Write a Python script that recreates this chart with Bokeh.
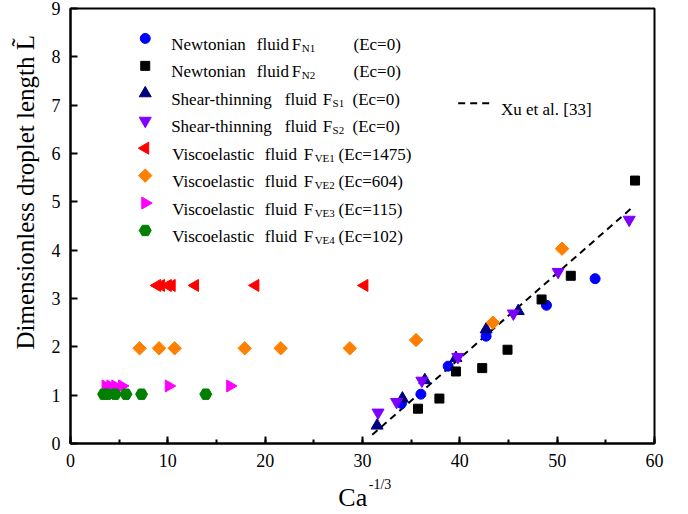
import math
from bokeh.plotting import figure
from bokeh.models import Range1d, SingleIntervalTicker, FixedTicker, LinearAxis, Title
from bokeh.core.properties import value
from bokeh.embed import file_html
from bokeh.resources import INLINE

# ---------------- data ----------------
n1_x = [34.0, 36.0, 38.8, 42.7, 48.9, 53.9]
n1_y = [0.83, 1.02, 1.60, 2.22, 2.86, 3.41]
n2_x = [35.7, 37.9, 39.6, 42.3, 44.9, 48.4, 51.4, 58.0]
n2_y = [0.72, 0.93, 1.49, 1.56, 1.94, 2.98, 3.47, 5.44]
s1_x = [31.5, 34.1, 36.4, 39.6, 42.7, 46.0]
s1_y = [0.37, 0.93, 1.31, 1.77, 2.36, 2.74]
s2_x = [31.6, 33.5, 36.1, 39.8, 45.5, 50.1, 57.4]
s2_y = [0.64, 0.86, 1.30, 1.79, 2.69, 3.55, 4.63]
ve1_x = [8.9, 9.3, 10.0, 10.4, 12.8, 19.0, 30.2]
ve1_y = [3.27, 3.27, 3.27, 3.27, 3.27, 3.27, 3.27]
ve2_x = [7.1, 9.1, 10.7, 17.9, 21.6, 28.7, 35.5, 43.4, 50.5]
ve2_y = [1.97, 1.97, 1.97, 1.97, 1.97, 1.97, 2.14, 2.50, 4.03]
ve3_x = [3.6, 4.1, 4.6, 5.3, 10.1, 16.4]
ve3_y = [1.19, 1.19, 1.19, 1.19, 1.19, 1.19]
ve4_x = [3.4, 3.8, 4.6, 5.7, 7.3, 13.9]
ve4_y = [1.02, 1.02, 1.02, 1.02, 1.02, 1.02]
xu_x = [31.0, 57.7]
xu_y = [0.18, 4.88]

x_ticks_interval = 10
y_ticks_interval = 1

leg_word1 = ["Newtonian", "Newtonian", "Shear-thinning", "Shear-thinning",
             "Viscoelastic", "Viscoelastic", "Viscoelastic", "Viscoelastic"]
leg_sub = ["N1", "N2", "S1", "S2", "VE1", "VE2", "VE3", "VE4"]
leg_ec = ["(Ec=0)", "(Ec=0)", "(Ec=0)", "(Ec=0)",
          "(Ec=1475)", "(Ec=604)", "(Ec=115)", "(Ec=102)"]
xu_label = "Xu et al. [33]"
x_title = "Ca"
x_title_sup = "-1/3"
y_title = "Dimensionless droplet length L\u0303"

# ---------------- styles ----------------
SERIF = "'Liberation Serif', 'Times New Roman', serif"
series = [
    (n1_x, n1_y, "circle", "#0000ff", 10, 0.0),
    (n2_x, n2_y, "square", "#000000", 9, 0.0),
    (s1_x, s1_y, "triangle", "#00007f", 12, 0.0),
    (s2_x, s2_y, "inverted_triangle", "#7f00ff", 12, 0.0),
    (ve1_x, ve1_y, "triangle", "#ff0000", 12, math.pi / 2),
    (ve2_x, ve2_y, "square", "#ff7f00", 9.5, math.pi / 4),
    (ve3_x, ve3_y, "triangle", "#ff00ff", 12, -math.pi / 2),
    (ve4_x, ve4_y, "hex", "#007f00", 12, 0.0),
]

W, H = 686, 514
L_B, R_B, T_B, B_B = 68, 32, 8, 70
FW, FH = W - L_B - R_B, H - T_B - B_B

p = figure(width=W, height=H, output_backend="svg", toolbar_location=None,
           x_range=Range1d(0, 60), y_range=Range1d(0, 9),
           min_border_left=L_B, min_border_right=R_B,
           min_border_top=T_B, min_border_bottom=B_B)
p.extra_x_ranges = {"px": Range1d(0, FW)}
p.extra_y_ranges = {"px": Range1d(0, FH)}

p.xgrid.visible = False
p.ygrid.visible = False
p.outline_line_color = "black"
p.outline_line_width = 2
p.background_fill_color = "white"
p.border_fill_color = "white"

p.xaxis.ticker = SingleIntervalTicker(interval=x_ticks_interval, num_minor_ticks=2)
p.yaxis.ticker = SingleIntervalTicker(interval=y_ticks_interval, num_minor_ticks=0)
for ax in (p.xaxis, p.yaxis):
    ax.axis_line_width = 2
    ax.axis_line_color = "black"
    ax.major_tick_in = 7
    ax.major_tick_out = 0
    ax.minor_tick_in = 4
    ax.minor_tick_out = 0
    ax.major_tick_line_width = 2
    ax.minor_tick_line_width = 2
    ax.major_tick_line_color = "black"
    ax.minor_tick_line_color = "black"
    ax.major_label_text_font = SERIF
    ax.major_label_text_font_size = "18px"
    ax.major_label_text_color = "black"
p.xaxis.major_label_standoff = 10
p.yaxis.major_label_standoff = 10

# x-axis title: superscript on the main axis, "Ca" on a bare second axis below
p.xaxis.axis_label = "\u2002" * 5 + x_title_sup
p.xaxis.axis_label_text_font = SERIF
p.xaxis.axis_label_text_font_size = "14px"
p.xaxis.axis_label_text_font_style = "normal"
p.xaxis.axis_label_text_color = "black"
p.xaxis.axis_label_standoff = 7

ca_axis = LinearAxis(ticker=FixedTicker(ticks=[]), axis_line_color=None,
                     major_tick_line_color=None, minor_tick_line_color=None,
                     major_tick_in=0, major_tick_out=0, minor_tick_in=0, minor_tick_out=0,
                     major_label_text_font_size="1px", major_label_standoff=0,
                     axis_label=x_title + "\u00a0\u00a0\u00a0", axis_label_text_font=SERIF,
                     axis_label_text_font_size="26px", axis_label_text_font_style="normal",
                     axis_label_text_color="black", axis_label_standoff=-12)
p.add_layout(ca_axis, "below")

# y-axis title as a side-panel title
p.add_layout(Title(text=y_title, align="left", offset=94, standoff=19,
                   text_font=SERIF, text_font_size="25px",
                   text_font_style="normal", text_color="black"), "left")

# reference line
p.line(xu_x, xu_y, line_color="black", line_width=2, line_dash="7 5")

for xs, ys, mk, col, sz, ang in series:
    p.scatter(xs, ys, marker=mk, size=sz, angle=ang, fill_color=col, line_color=col)

# ---------------- legend (pixel coords inside frame) ----------------
row0, step = 406, 27.5
word_x = {"Newtonian": (101, 187, 222, 232, 284),
          "Shear-thinning": (101, 215, 253, 263, 283),
          "Viscoelastic": (102, 195, 234, 245, 269)}
for i, (w1, sub, ec) in enumerate(zip(leg_word1, leg_sub, leg_ec)):
    xs, ys, mk, col, sz, ang = series[i]
    cy = row0 - step * i
    p.scatter([75], [cy], marker=mk, size=sz, angle=ang, fill_color=col,
              line_color=col, x_range_name="px", y_range_name="px")
    x1, x2, x3, x4, x5 = word_x[w1]
    for tx, tt in ((x1, w1), (x2, "fluid"), (x3, "F"), (x5, ec)):
        p.text([tx], [cy - 6], text=[tt], x_range_name="px", y_range_name="px",
               text_font=value(SERIF), text_font_size="17px",
               text_baseline="alphabetic", text_align="left", text_color="black")
    p.text([x4], [cy - 9.5], text=[sub], x_range_name="px", y_range_name="px",
           text_font=value(SERIF), text_font_size="11px",
           text_baseline="alphabetic", text_align="left", text_color="black")

p.line([389, 424], [341, 341], line_color="black", line_width=2,
       line_dash="7 5", x_range_name="px", y_range_name="px")
p.text([432], [335], text=[xu_label], x_range_name="px", y_range_name="px",
       text_font=value(SERIF), text_font_size="17px",
       text_baseline="alphabetic", text_align="left", text_color="black")

open("out.html", "w").write(file_html(p, INLINE))
